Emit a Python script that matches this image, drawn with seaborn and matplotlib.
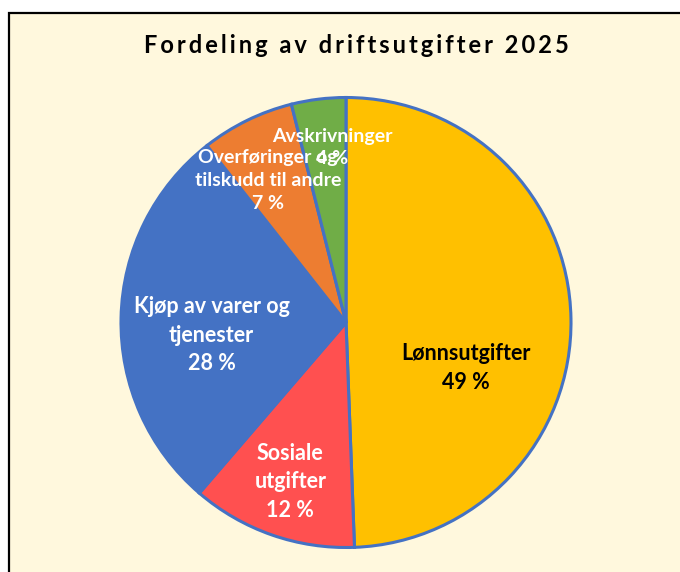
import numpy as np
import matplotlib
matplotlib.use("Agg")
import matplotlib.pyplot as plt
from matplotlib.patches import Rectangle
import seaborn as sns

# data
categories = ["Lønnsutgifter", "Sosiale utgifter", "Kjøp av varer og tjenester",
              "Overføringer og tilskudd til andre", "Avskrivninger"]
label_text = ["Lønnsutgifter", "Sosiale\nutgifter", "Kjøp av varer og\ntjenester",
              "Overføringer og\ntilskudd til andre", "Avskrivninger"]
shares = [49.4, 11.9, 28.1, 6.7, 3.9]
shown_pct = [49, 12, 28, 7, 4]
colors = ["#FFC000", "#FF5050", "#4472C4", "#ED7D31", "#70AD47"]
title = "Fordeling av driftsutgifter 2025"

# label layout (radius as fraction of pie radius, angle tweak from slice middle)
label_r = [0.57, 0.75, 0.60, 0.72, 0.78]
label_dtheta = [-22, 0, 6.6, 2.6, -2.4]
label_size = [15.5, 15.5, 15.5, 14, 14]
label_spacing = [1.45, 1.45, 1.45, 1.4, 1.35]
label_color = ["black", "white", "white", "white", "white"]

sns.set_theme(style="white")
plt.rcParams["font.family"] = ["Lato", "DejaVu Sans"]

W, H = 680, 572
fig = plt.figure(figsize=(W / 100, H / 100), dpi=100, facecolor="white")

# cream chart area with black frame (cut off at right and bottom)
bg = Rectangle((9 / W, -0.05), 1.05, 1 - 13 / H + 0.05, transform=fig.transFigure,
               facecolor="#FFF8DD", edgecolor="black", linewidth=1.6, zorder=0)
fig.add_artist(bg)

cx, cy, R = 346, 322.5, 225
ax = fig.add_axes([(cx - R) / W, (H - cy - R) / H, 2 * R / W, 2 * R / H])
wedges, _ = ax.pie(shares, colors=colors, startangle=90, counterclock=False,
                   wedgeprops=dict(edgecolor="#4472C4", linewidth=2.2))
ax.set_xlim(-1, 1)
ax.set_ylim(-1, 1)
ax.axis("off")

for w, txt, pct, r, dt, fs, ls, col in zip(wedges, label_text, shown_pct, label_r,
                                            label_dtheta, label_size, label_spacing,
                                            label_color):
    mid = np.deg2rad((w.theta1 + w.theta2) / 2 + dt)
    ax.text(r * np.cos(mid), r * np.sin(mid), f"{txt}\n{pct} %", ha="center", va="center",
            fontsize=fs, fontweight="bold", color=col, linespacing=ls)

spaced = "\u2009".join(title)
fig.text(356 / W, 1 - 53 / H, spaced, ha="center", va="baseline",
         fontsize=17, fontweight="bold", color="black")

fig.savefig("out.png", dpi=100)
